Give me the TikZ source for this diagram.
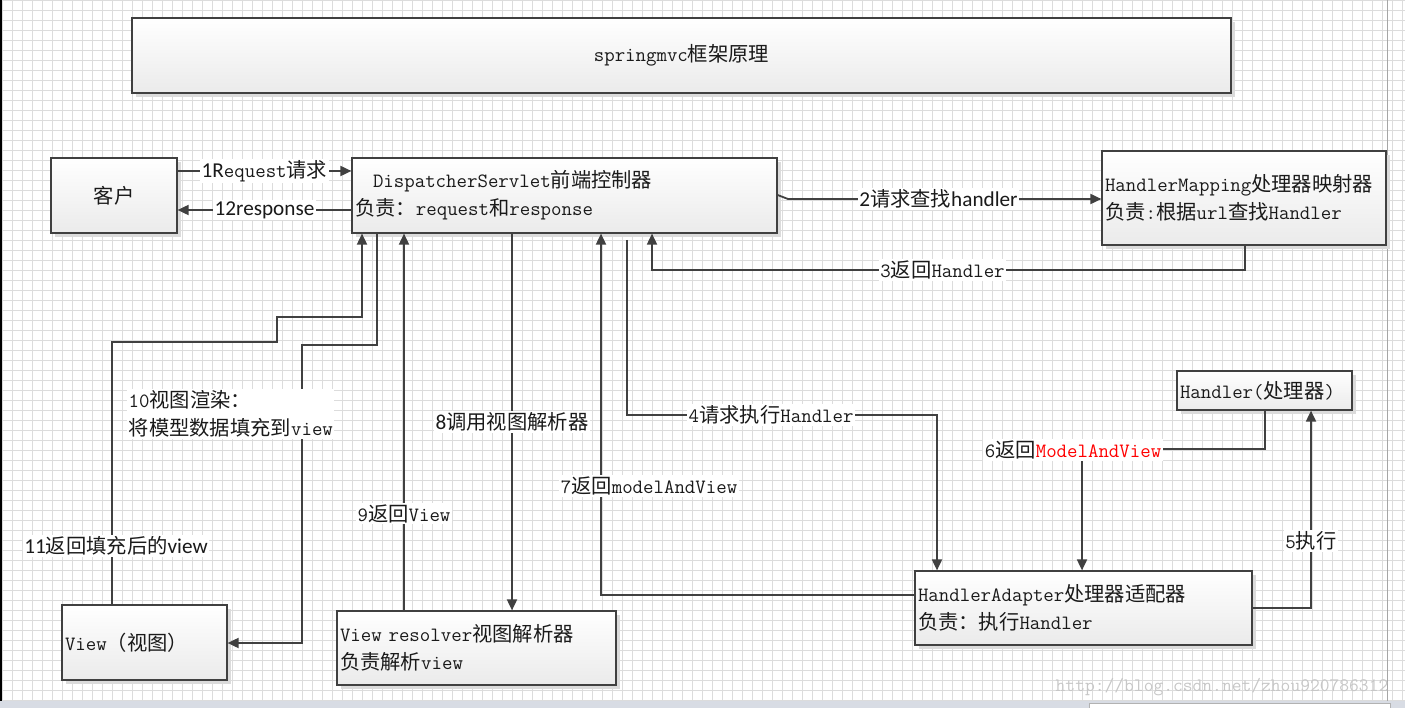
\documentclass[tikz,border=0pt]{standalone}
\usepackage{fontspec}
\newfontfamily\zhf{Noto Sans CJK SC}
\newfontfamily\calf{Carlito}
\newcommand\zh[1]{{\zhf #1}}
\newcommand\sn[1]{{\calf\fontsize{21.2}{26}\selectfont #1}}
\usetikzlibrary{arrows.meta,shadows}
\definecolor{ln}{HTML}{404040}
\definecolor{gridc}{HTML}{DCDCDC}
\definecolor{txt}{HTML}{1A1A1A}
\definecolor{band}{HTML}{D8DCE4}
\tikzset{
  box/.style={draw=ln, line width=1.2pt, top color=white, bottom color=black!8,
    drop shadow={shadow xshift=4pt, shadow yshift=-4pt, fill=black!14, opacity=1},
    inner sep=3pt, text=txt, font=\ttfamily\fontsize{20.3}{28}\selectfont},
  lbox/.style={box, align=left},
  arr/.style={draw=ln, line width=1.8pt, -{Triangle[length=11pt,width=10pt]}},
  lbl/.style={fill=white, inner sep=1.5pt, text=txt, font=\ttfamily\fontsize{20.3}{28}\selectfont},
  gl/.style={draw=gridc, line width=0.8pt}
}
\begin{document}
\begin{tikzpicture}[x=1pt,y=-1pt]
\useasboundingbox (0,0) rectangle (1405,708);
\fill[white] (0,0) rectangle (1405,708);
% grid
\foreach \i in {2,12,...,1402} \draw[gl] (\i,0) -- (\i,701);
\foreach \j in {0,10,...,700} \draw[gl] (0,\j) -- (1405,\j);
\draw[draw=black!35, line width=1pt] (1387,0) -- (1387,701);
\draw[black, line width=2pt] (1,0) -- (1,701);
% bottom band
\fill[band] (0,701) rectangle (1405,708);
\filldraw[fill=white, draw=black!30] (1089,703) rectangle (1390,709);

% boxes
\node[box, minimum width=1099pt, minimum height=75pt] (title) at (681.5,55.5) {springmvc\zh{框架原理}};
\node[box, minimum width=126pt, minimum height=75pt] (kh) at (114,195.5) {\zh{客户}};
\node[lbox, minimum width=425pt, minimum height=75pt, text width=419pt] (ds) at (564.5,195.5)
  {\hspace*{18pt}DispatcherServlet\zh{前端控制器}\\\zh{负责：}request\zh{和}response};
\node[lbox, minimum width=284pt, minimum height=94pt, text width=278pt] (hm) at (1244,198)
  {HandlerMapping\zh{处理器映射器}\\\zh{负责}:\zh{根据}url\zh{查找}Handler};
\node[lbox, minimum width=175pt, minimum height=39pt, text width=169pt] (h) at (1264.5,390.5)
  {Handler(\zh{处理器})};
\node[lbox, minimum width=337pt, minimum height=74pt, text width=331pt] (ha) at (1083.5,608)
  {HandlerAdapter\zh{处理器适配器}\\\zh{负责：执行}Handler};
\node[lbox, minimum width=165pt, minimum height=75pt, text width=159pt] (view) at (144.5,642.5)
  {View\zh{（视图）}};
\node[lbox, minimum width=279pt, minimum height=74pt, text width=273pt] (vr) at (476.5,648)
  {View resolver\zh{视图解析器}\\\zh{负责解析}view};

% connectors
\draw[arr] (kh.east |- 0,171) -- node[lbl]{\sn{1R}equest\zh{请求}} (ds.west |- 0,171);
\draw[arr] (ds.west |- 0,210) -- node[lbl]{\sn{12response}} (kh.east |- 0,210);
\draw[arr] (ds.east |- 0,195) -- (788,199) -- node[lbl, pos=0.48]{\sn{2}\zh{请求查找}\sn{handler}} (hm.west |- 0,199);
\draw[arr] (hm.south -| 1245,0) -- (1245,270) -- node[lbl, pos=0.51]{3\zh{返回}Handler} (652,270) -- (ds.south -| 652,0);
\coordinate (s4) at (627,240);
\draw[arr] (s4) -- (627,415) -- node[lbl, pos=0.465]{4\zh{请求执行}Handler} (937,415) -- (ha.north -| 937,0);
\draw[arr] (ha.east |- 0,608) -- (1311,608) -- node[lbl, pos=0.34]{5\zh{执行}} (h.south -| 1311,0);
\draw[arr] (h.south -| 1265,0) -- (1265,449) -- (1082,449) -- (ha.north -| 1082,0);
\node[lbl] (l6) at (1073,450) {6\zh{返回}\textcolor{red}{ModelAndView}};
\draw[arr] (ha.west |- 0,595) -- (601,595) -- (ds.south -| 601,0);
\node[lbl] (l7) at (649,486) {7\zh{返回}modelAndView};
\draw[arr] (ds.south -| 512,0) -- node[lbl, pos=0.5]{\sn{8}\zh{调用视图解析器}} (vr.north -| 512,0);
\draw[arr] (vr.north -| 404,0) -- node[lbl, pos=0.257]{9\zh{返回}View} (ds.south -| 404,0);
\draw[arr] (ds.south -| 377,0) -- (377,345) -- (302,345) -- (302,643) -- (view.east |- 0,643);
\node[lbl, anchor=west, align=left] (l10) at (127,414) {10\zh{视图渲染：}\\\zh{将模型数据填充到}view};
\draw[arr] (view.north -| 112,0) -- (112,342) -- (277,342) -- (277,317) -- (362,317) -- (ds.south -| 362,0);
\node[lbl] (l11) at (116,546) {\sn{11}\zh{返回填充后的}\sn{view}};

% watermark
\node[text=black!22, font=\ttfamily\fontsize{19}{22}\selectfont, inner sep=0pt] (wm) at (1222,687) {http://blog.csdn.net/zhou920786312};
\end{tikzpicture}
\end{document}
